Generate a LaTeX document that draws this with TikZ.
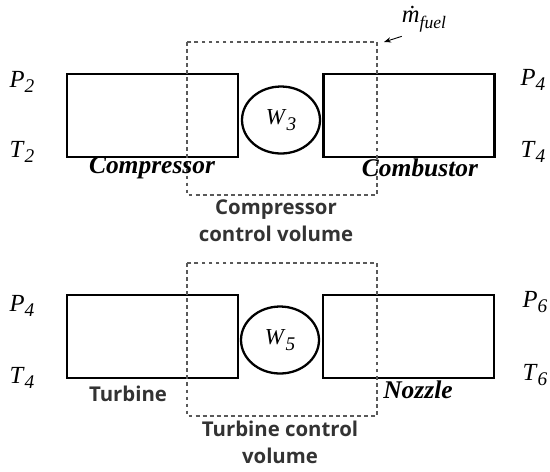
\documentclass[tikz,border=0pt]{standalone}
\usepackage{fontspec}
\setmainfont{Liberation Serif}
\newfontfamily\cvsans{Open Sans}
\usetikzlibrary{shapes.geometric,arrows.meta,positioning}

% italic symbol with a lowered italic index
\newcommand{\stsym}[2]{\textit{#1}\raisebox{-0.5ex}{\fontsize{11}{11}\selectfont\textit{#2}}}

\begin{document}
\begin{tikzpicture}[x=0.02cm,y=-0.02cm,
		unit/.style={draw, line width=1.6pt, minimum width=3.42cm, minimum height=1.66cm, inner sep=0pt},
		shaft/.style={draw, ellipse, line width=1.3pt, minimum width=1.56cm, minimum height=1.34cm, inner sep=0pt},
		cvbox/.style={draw=black!65, line width=0.6pt, dash pattern=on 2.2pt off 1.8pt},
		statelbl/.style={font=\fontsize{14}{16}\selectfont},
		unitname/.style={font=\fontsize{14.5}{16}\selectfont\bfseries\itshape},
		cvname/.style={font=\cvsans\fontsize{11.6}{15.5}\selectfont\bfseries, text=black!80, align=center}]
		\useasboundingbox (0,0) rectangle (550,471);

		% compressor side
		\node[unit] (comp) at (152.5,115.5) {};
		\node[unit] (comb) at (409,115.5) {};
		\node[shaft, statelbl, font=\fontsize{13}{15}\selectfont] (wthree) at (281,120) {\stsym{W}{3}};
		\draw[cvbox] (187,42) rectangle (377,195);

		\node[statelbl] (ptwo) at (22,82) {\stsym{P}{2}};
		\node[statelbl] (ttwo) at (22,152) {\stsym{T}{2}};
		\node[statelbl] (pfour) at (533,80) {\stsym{P}{4}};
		\node[statelbl] (tfour) at (533,152) {\stsym{T}{4}};

		\node[unitname] (compname) at (152,168) {Compressor};
		\node[unitname] (combname) at (420,168) {Combustor};
		\node[cvname] (compcv) at (276,221) {Compressor\\control volume};

		\node[font=\fontsize{14}{16}\selectfont] (mfuel) at (424,19) {\textit{\.{m}}\raisebox{-0.55ex}{\fontsize{10}{10}\selectfont\textit{fuel}}};
		\coordinate (fuelin) at (384,42);
		\draw[-{Stealth[length=4pt,width=3pt]}, line width=0.5pt] ([shift={(6,-2)}]mfuel.south west) -- (fuelin);

		% turbine side
		\node[unit] (turb) at (152.5,336.5) {};
		\node[unit] (nozz) at (408.5,336.5) {};
		\node[shaft, statelbl, font=\fontsize{13}{15}\selectfont] (wfive) at (280,340) {\stsym{W}{5}};
		\draw[cvbox] (187,263) rectangle (377,416);

		\node[statelbl] (pfourb) at (22,306) {\stsym{P}{4}};
		\node[statelbl] (tfourb) at (22,378) {\stsym{T}{4}};
		\node[statelbl] (psix) at (535,302) {\stsym{P}{6}};
		\node[statelbl] (tsix) at (535,375) {\stsym{T}{6}};

		\node[cvname] (turbname) at (128,394) {Turbine};
		\node[unitname] (nozzname) at (418,390) {Nozzle};
		\node[cvname] (turbcv) at (280,442) {Turbine control\\volume};
	\end{tikzpicture}
\end{document}
